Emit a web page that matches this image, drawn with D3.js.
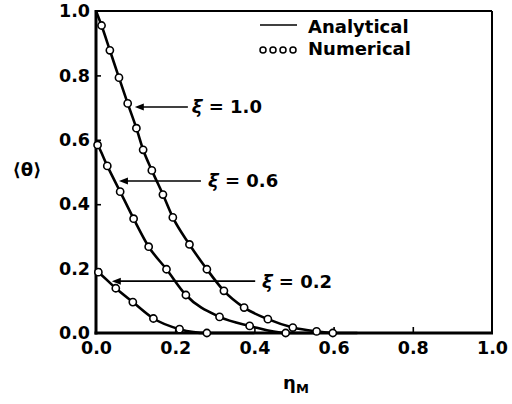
<!DOCTYPE html>
<html>
<head>
<meta charset="utf-8">
<script src="https://cdn.jsdelivr.net/npm/d3@7/dist/d3.min.js"></script>
<style>
  html, body { margin: 0; padding: 0; background: #fff; }
  svg { display: block; }
  text { font-family: "DejaVu Sans", sans-serif; font-weight: bold; fill: #000; }
</style>
</head>
<body>
<svg id="chart" width="512" height="404"></svg>
<script>
// ---- data ----
const xTicks = [0.0, 0.2, 0.4, 0.6, 0.8, 1.0];
const yTicks = [0.0, 0.2, 0.4, 0.6, 0.8, 1.0];
const xiValues = ["1.0", "0.6", "0.2"];

// numerical (markers)
const eta10 = [0.014, 0.035, 0.058, 0.080, 0.102, 0.119, 0.141, 0.169, 0.194, 0.236, 0.280, 0.323, 0.374, 0.434, 0.497, 0.557, 0.598];
const theta10 = [0.955, 0.878, 0.793, 0.713, 0.636, 0.569, 0.505, 0.430, 0.359, 0.275, 0.198, 0.131, 0.079, 0.043, 0.017, 0.005, 0.0];
const eta06 = [0.004, 0.0285, 0.061, 0.095, 0.133, 0.178, 0.227, 0.312, 0.388, 0.479];
const theta06 = [0.584, 0.519, 0.439, 0.355, 0.268, 0.198, 0.118, 0.050, 0.022, 0.0];
const eta02 = [0.006, 0.050, 0.093, 0.145, 0.211, 0.280];
const theta02 = [0.189, 0.139, 0.096, 0.045, 0.012, 0.0];

// analytical (lines) start and end points
const lineStartEta = [0.0, 0.0, 0.0];
const lineStartTheta = [1.0, 0.592, 0.195];
const lineEndEta = [0.66, 0.56, 0.40];
const lineEndTheta = [0.0, 0.0, 0.0];

// annotation arrows: tip (eta, theta), tail eta, label eta
const arrowTipEta = [0.098, 0.058, 0.040];
const arrowTipTheta = [0.702, 0.472, 0.161];
const arrowTailEta = [0.232, 0.265, 0.402];
const labelEta = [0.242, 0.283, 0.419];

// ---- layout ----
const svg = d3.select("#chart");
const L = 96, R = 492, T = 11, B = 333;
const x = d3.scaleLinear().domain([0, 1]).range([L, R]);
const y = d3.scaleLinear().domain([0, 1]).range([B, T]);

const seriesMarkers = [
  d3.zip(eta10, theta10),
  d3.zip(eta06, theta06),
  d3.zip(eta02, theta02)
];
const seriesLines = seriesMarkers.map((m, i) =>
  [[lineStartEta[i], lineStartTheta[i]], ...m, [lineEndEta[i], lineEndTheta[i]]]
);

// axes with inward ticks
const xAxis = d3.axisBottom(x).tickValues(xTicks).tickSize(-6).tickPadding(9)
  .tickFormat(d3.format(".1f"));
const yAxis = d3.axisLeft(y).tickValues(yTicks).tickSize(-5).tickPadding(6)
  .tickFormat(d3.format(".1f"));

const gx = svg.append("g").attr("transform", `translate(0,${B})`).call(xAxis);
const gy = svg.append("g").attr("transform", `translate(${L},0)`).call(yAxis);
[gx, gy].forEach(g => {
  g.select(".domain").remove();
  g.selectAll(".tick line").attr("stroke", "#000").attr("stroke-width", 1.6);
  g.selectAll(".tick text").attr("font-size", 17.5)
    .attr("font-family", "DejaVu Sans").attr("font-weight", "bold").attr("fill", "#000");
});
gx.selectAll(".tick").filter(d => d === 0 || d === 1).select("line").remove();
gy.selectAll(".tick").filter(d => d === 0 || d === 1).select("line").remove();

// frame
svg.append("line").attr("x1", L).attr("x2", R).attr("y1", T).attr("y2", T)
  .attr("stroke", "#000").attr("stroke-width", 2);
svg.append("line").attr("x1", R).attr("x2", R).attr("y1", T).attr("y2", B)
  .attr("stroke", "#000").attr("stroke-width", 2);
svg.append("line").attr("x1", L).attr("x2", L).attr("y1", T - 1).attr("y2", B + 1.5)
  .attr("stroke", "#000").attr("stroke-width", 3);
svg.append("line").attr("x1", L - 1.5).attr("x2", R + 1).attr("y1", B).attr("y2", B)
  .attr("stroke", "#000").attr("stroke-width", 3);

// analytical lines
const line = d3.line().x(d => x(d[0])).y(d => y(d[1])).curve(d3.curveMonotoneX);
svg.append("g").selectAll("path").data(seriesLines).join("path")
  .attr("d", line).attr("fill", "none").attr("stroke", "#000").attr("stroke-width", 2.6);

// annotation arrows
const ann = svg.append("g");
xiValues.forEach((v, i) => {
  const ty = y(arrowTipTheta[i]);
  const tx = x(arrowTipEta[i]);
  ann.append("line").attr("x1", x(arrowTailEta[i])).attr("x2", tx + 6)
    .attr("y1", ty).attr("y2", ty).attr("stroke", "#000").attr("stroke-width", 1.6);
  ann.append("path")
    .attr("d", `M${tx},${ty} L${tx + 9},${ty - 3.5} L${tx + 9},${ty + 3.5} Z`)
    .attr("fill", "#000");
  const t = ann.append("text").attr("x", x(labelEta[i])).attr("y", ty).attr("dy", "0.36em")
    .attr("font-size", 18);
  t.append("tspan").attr("font-style", "italic").text("ξ");
  t.append("tspan").text(" = " + v);
});

// numerical markers
svg.append("g").selectAll("circle").data(seriesMarkers.flat()).join("circle")
  .attr("cx", d => x(d[0])).attr("cy", d => y(d[1])).attr("r", 3.6)
  .attr("fill", "#fff").attr("stroke", "#000").attr("stroke-width", 1.6);

// legend
const lg = svg.append("g");
lg.append("line").attr("x1", 260).attr("x2", 297).attr("y1", 25).attr("y2", 25)
  .attr("stroke", "#000").attr("stroke-width", 1.6);
lg.append("text").attr("x", 308).attr("y", 33).attr("font-size", 18).text("Analytical");
lg.selectAll("circle.leg").data([0, 1, 2, 3]).join("circle").attr("class", "leg")
  .attr("cx", d => 263 + d * 10).attr("cy", 50).attr("r", 3)
  .attr("fill", "#fff").attr("stroke", "#000").attr("stroke-width", 1.5);
lg.append("text").attr("x", 308).attr("y", 55).attr("font-size", 18).text("Numerical");

// axis titles
svg.append("text").attr("x", 27).attr("y", 170).attr("dy", "0.36em")
  .attr("text-anchor", "middle").attr("font-size", 18).text("⟨θ⟩");
const xt = svg.append("text").attr("x", 296).attr("y", 389).attr("text-anchor", "middle")
  .attr("font-size", 18);
xt.append("tspan").text("η");
xt.append("tspan").attr("font-size", 13).attr("dy", 4).text("M");
</script>
</body>
</html>
